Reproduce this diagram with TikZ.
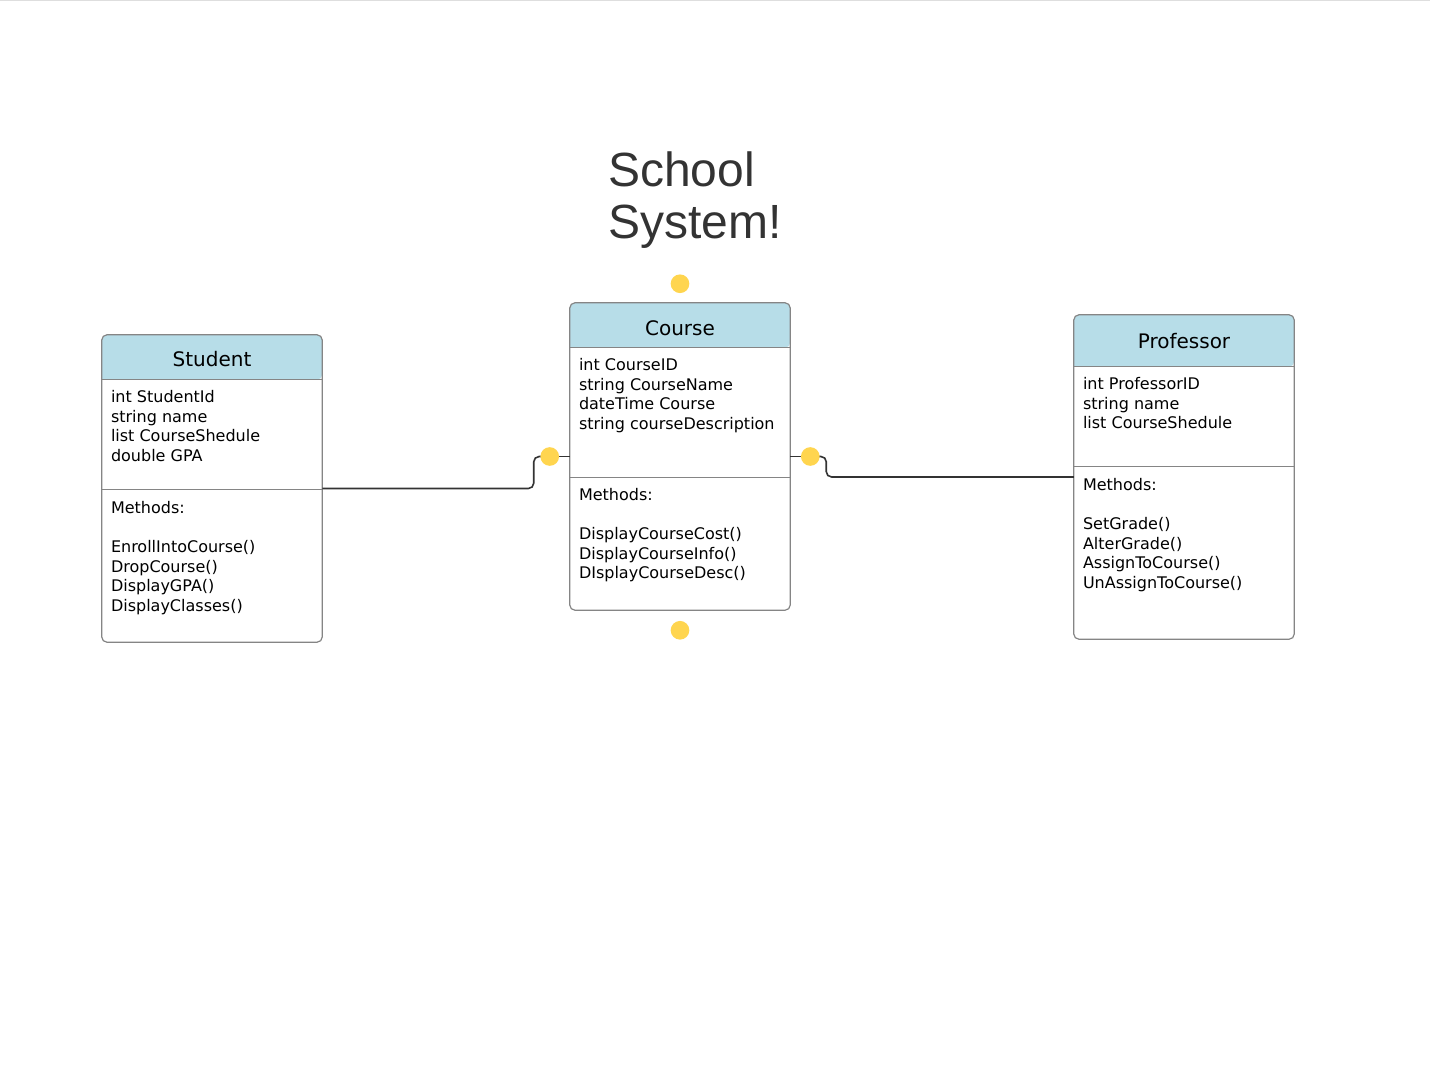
\documentclass[tikz,border=0pt]{standalone}
\usepackage{fontspec}
\setmainfont{DejaVu Sans}
\newfontfamily\titlefont{Liberation Sans}
\usepackage{xcolor}
\usetikzlibrary{positioning,calc}

\definecolor{headblue}{HTML}{B7DDE8}
\definecolor{boxgray}{HTML}{858585}
\definecolor{wiregray}{HTML}{333333}
\definecolor{dotyellow}{HTML}{FFD54F}
\definecolor{titlegray}{HTML}{333333}

\tikzset{
  classbox/.style={fill=white, minimum width=165pt, inner sep=0pt},
  frame/.style={draw=boxgray, line width=0.9pt, rounded corners=4pt},
  divider/.style={draw=boxgray, line width=0.9pt},
  headtext/.style={font=\fontsize{15}{18}\selectfont, anchor=base},
  % anchor sits on the baseline of the last line
  membertext/.style={font=\fontsize{12}{14.6}\selectfont, align=left, anchor=base west, inner sep=0pt},
  wire/.style={draw=wiregray, line width=1.2pt, rounded corners=4pt},
  port/.style={circle, fill=dotyellow, minimum size=14pt, inner sep=0pt},
}

\begin{document}
\begin{tikzpicture}[x=0.75pt, y=-0.75pt]
  \useasboundingbox (0,0) rectangle (1430,1078);
  \draw[black!13] (0,0.5) -- (1430,0.5);

  % title
  \node[font=\titlefont\fontsize{36}{38.3}\selectfont, text=titlegray, align=left, anchor=base west, inner sep=0pt] (title) at (608,238) {School\\System!};

  % class boxes
  \node[classbox, minimum height=230.25pt] (student) at (212,488.5) {};
  \node[classbox, minimum height=230.25pt] (course) at (680,456.5) {};
  \node[classbox, minimum height=243pt] (prof) at (1184,477) {};

  % headers
  \fill[headblue, rounded corners=4pt] ($(student.north west)+(0,45)$) -- (student.north west) -- (student.north east) -- ($(student.north east)+(0,45)$) [sharp corners] -- cycle;
  \fill[headblue, rounded corners=4pt] ($(course.north west)+(0,45)$) -- (course.north west) -- (course.north east) -- ($(course.north east)+(0,45)$) [sharp corners] -- cycle;
  \fill[headblue, rounded corners=4pt] ($(prof.north west)+(0,52)$) -- (prof.north west) -- (prof.north east) -- ($(prof.north east)+(0,52)$) [sharp corners] -- cycle;

  \draw[divider] ($(student.north west)+(0,45)$) -- ($(student.north east)+(0,45)$);
  \draw[divider] ($(student.north west)+(0,155)$) -- ($(student.north east)+(0,155)$);
  \draw[divider] ($(course.north west)+(0,45)$) -- ($(course.north east)+(0,45)$);
  \draw[divider] ($(course.north west)+(0,175)$) -- ($(course.north east)+(0,175)$);
  \draw[divider] ($(prof.north west)+(0,52)$) -- ($(prof.north east)+(0,52)$);
  \draw[divider] ($(prof.north west)+(0,152)$) -- ($(prof.north east)+(0,152)$);

  \draw[frame] (student.north west) rectangle (student.south east);
  \draw[frame] (course.north west) rectangle (course.south east);
  \draw[frame] (prof.north west) rectangle (prof.south east);

  % class names
  \node[headtext] (studentname) at ($(student.north)+(0,32)$) {Student};
  \node[headtext] (coursename) at ($(course.north)+(0,33)$) {Course};
  \node[headtext] (profname) at ($(prof.north)+(0,34)$) {Professor};

  % members
  \node[membertext] (studentattr) at ($(student.north west)+(9,126.4)$) {int StudentId\\string name\\list CourseShedule\\double GPA};
  \node[membertext] (studentops) at ($(student.north west)+(9,276.3)$) {Methods:\\[14.6pt]EnrollIntoCourse()\\DropCourse()\\DisplayGPA()\\DisplayClasses()};
  \node[membertext] (courseattr) at ($(course.north west)+(9,126.4)$) {int CourseID\\string CourseName\\dateTime Course\\string courseDescription};
  \node[membertext] (courseops) at ($(course.north west)+(9,275.9)$) {Methods:\\[14.6pt]DisplayCourseCost()\\DisplayCourseInfo()\\DIsplayCourseDesc()};
  \node[membertext] (profattr) at ($(prof.north west)+(9,113.9)$) {int ProfessorID\\string name\\list CourseShedule};
  \node[membertext] (profops) at ($(prof.north west)+(9,273.3)$) {Methods:\\[14.6pt]SetGrade()\\AlterGrade()\\AssignToCourse()\\UnAssignToCourse()};

  % ports
  \coordinate (portLpos) at ($(course.west)+(-20,0)$);
  \coordinate (portRpos) at ($(course.east)+(20,0)$);
  \node[port] (portT) at ($(course.north)+(0,-19)$) {};
  \node[port] (portB) at ($(course.south)+(0,20)$) {};

  % connectors
  \draw[wire] (student.east) -| ($(portLpos)+(-16,0)$) -- (portLpos);
  \draw[wire] (portLpos) -- (course.west);
  \draw[wire] (course.east) -- (portRpos);
  \draw[wire] (portRpos) -- ($(portRpos)+(16,0)$) |- (prof.west);
  \node[port] (portL) at (portLpos) {};
  \node[port] (portR) at (portRpos) {};
\end{tikzpicture}
\end{document}
